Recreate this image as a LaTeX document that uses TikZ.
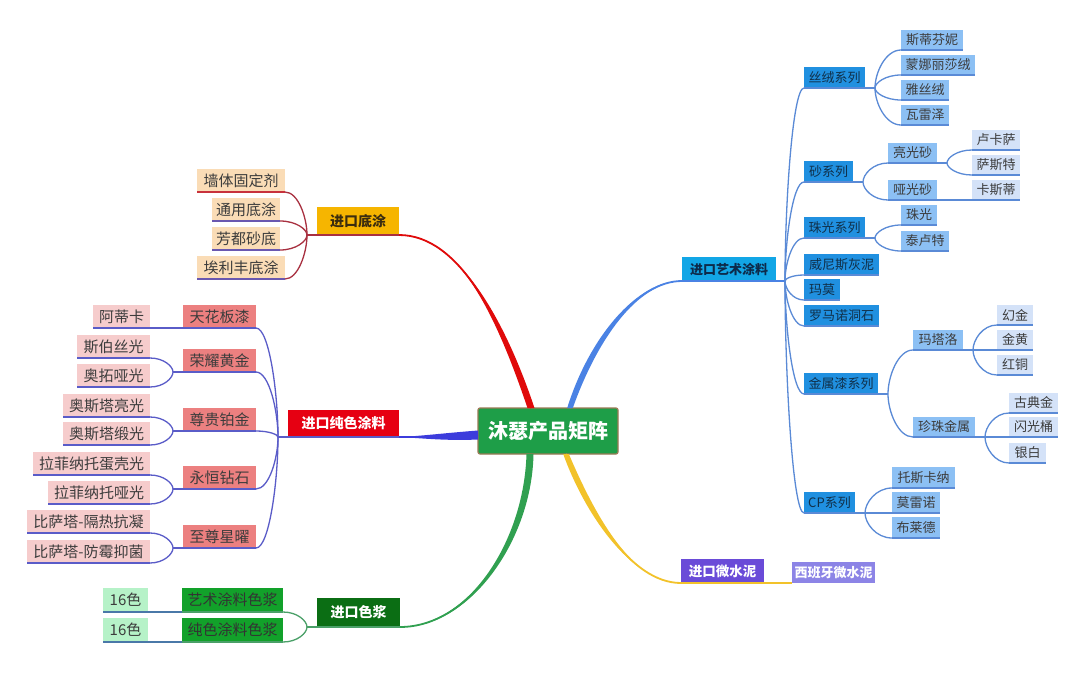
\documentclass[tikz,border=0pt]{standalone}
\usepackage{fontspec}
\setmainfont{Noto Sans CJK SC}
\usetikzlibrary{calc}
\definecolor{cCenter}{HTML}{1E9E48}
\definecolor{cBorder}{HTML}{9A7A55}
\definecolor{cDitu}{HTML}{F6B500}
\definecolor{cDituT}{HTML}{3B2D0F}
\definecolor{cChunse}{HTML}{E60012}
\definecolor{cSejiang}{HTML}{0B6E14}
\definecolor{cYishu}{HTML}{12A6E6}
\definecolor{cYishuT}{HTML}{0D2A4A}
\definecolor{cWei}{HTML}{6A4BD8}
\definecolor{cXibanya}{HTML}{8C84E6}
\definecolor{cPeach}{HTML}{FADCB6}
\definecolor{cSalmon}{HTML}{EC8080}
\definecolor{cPink}{HTML}{F6CCCC}
\definecolor{cGsec}{HTML}{12A12A}
\definecolor{cLG}{HTML}{B6F2C8}
\definecolor{cBsec}{HTML}{2090E0}
\definecolor{cLB}{HTML}{8CC0F4}
\definecolor{cVLB}{HTML}{D4E2F8}
\definecolor{txt}{HTML}{3C3C3C}
\definecolor{txtB}{HTML}{10304A}
\definecolor{lDi}{HTML}{A83040}
\definecolor{lDiU}{HTML}{6A58B0}
\definecolor{lDiR}{HTML}{C8323C}
\definecolor{lCs}{HTML}{5A5CC8}
\definecolor{lSj}{HTML}{4AA068}
\definecolor{lSjU}{HTML}{4A78A8}
\definecolor{lYs}{HTML}{5A8AD6}
\definecolor{bRed}{HTML}{E00A0A}
\definecolor{bBlueL}{HTML}{3C3CDC}
\definecolor{bGreen}{HTML}{30A050}
\definecolor{bBlueR}{HTML}{4A82E4}
\definecolor{bYellow}{HTML}{F2C22A}
\newcommand\bnode[6]{\node[#1, minimum width=#4, minimum height=#5] (#2) at #3 {#6};}
\newcommand\crv[3]{\draw[#1] (#2) .. controls ($(#2)!0.4!(#2 |- #3)$) and ($(#3)!0.6!(#2 |- #3)$) .. (#3);}
\begin{document}
\begin{tikzpicture}[x=1pt,y=-1pt,
  bx/.style={inner sep=0pt, outer sep=0pt, text=txt, font=\fontsize{15}{17}\selectfont},
  bxs/.style={bx, font=\fontsize{13}{15}\selectfont},
  lone/.style={inner sep=0pt, outer sep=0pt, font=\fontsize{14}{16}\selectfont\bfseries},
  rootbox/.style={inner sep=0pt, outer sep=0pt, fill=cCenter, draw=cBorder, line width=1.2, rounded corners=2, text=white, font=\fontsize{20}{24}\selectfont\bfseries},
  peach/.style={bx, fill=cPeach},
  salmon/.style={bx, fill=cSalmon},
  pink/.style={bx, fill=cPink},
  gsec/.style={bx, fill=cGsec, text=black!80},
  lgreen/.style={bx, fill=cLG},
  bsec/.style={bxs, fill=cBsec, text=txtB},
  lblue/.style={bxs, fill=cLB},
  vlblue/.style={bxs, fill=cVLB},
  conn/.style={line width=1.3},
  ul/.style={line width=1.5},
  ulone/.style={line width=2}]
\fill[white] (0,0) rectangle (1080,675);
\useasboundingbox (0,0) rectangle (1080,675);

% ---------- nodes ----------
\bnode{rootbox}{root}{(548,431)}{140}{46}{沐瑟产品矩阵}

\bnode{lone,fill=cDitu,text=cDituT}{ditu}{(358,221)}{82}{28}{进口底涂}
\bnode{lone,fill=cChunse,text=white}{chunse}{(343.5,423.5)}{111}{27}{进口纯色涂料}
\bnode{lone,fill=cSejiang,text=white}{sejiang}{(358.5,612.5)}{83}{29}{进口色浆}
\bnode{lone,fill=cYishu,text=cYishuT,font=\fontsize{13}{15}\selectfont\bfseries}{yishu}{(729,269)}{94}{24}{进口艺术涂料}
\bnode{lone,fill=cWei,text=white,font=\fontsize{13.5}{15}\selectfont\bfseries}{weishuini}{(722.5,571)}{83}{24}{进口微水泥}
\bnode{lone,fill=cXibanya,text=white,font=\fontsize{13}{15}\selectfont\bfseries}{xibanya}{(833.5,572.5)}{83}{21}{西班牙微水泥}

% 底涂
\bnode{peach}{qiang}{(241,180.5)}{88}{23}{墙体固定剂}
\bnode{peach}{tyd}{(246,209.5)}{68}{23}{通用底涂}
\bnode{peach}{fds}{(246,238.5)}{68}{23}{芳都砂底}
\bnode{peach}{alf}{(241,267.5)}{88}{23}{埃利丰底涂}

% 纯色
\bnode{salmon}{tianhua}{(219.5,316.5)}{73}{23}{天花板漆}
\bnode{salmon}{rongyao}{(219.5,360.5)}{73}{23}{荣耀黄金}
\bnode{salmon}{zungui}{(219.5,419.5)}{73}{23}{尊贵铂金}
\bnode{salmon}{yongheng}{(219.5,477.5)}{73}{23}{永恒钻石}
\bnode{salmon}{zhizun}{(219.5,536.5)}{73}{23}{至尊星曜}
\bnode{pink}{adika}{(121.5,316.5)}{57}{23}{阿蒂卡}
\bnode{pink}{sibo}{(113.5,346.5)}{73}{23}{斯伯丝光}
\bnode{pink}{aotuo}{(113.5,375.5)}{73}{23}{奥拓哑光}
\bnode{pink}{aosa}{(106.5,405.5)}{87}{23}{奥斯塔亮光}
\bnode{pink}{aosb}{(106.5,433.5)}{87}{23}{奥斯塔缎光}
\bnode{pink}{lafa}{(91.5,463.5)}{117}{23}{拉菲纳托蛋壳光}
\bnode{pink}{lafb}{(99,492.5)}{102}{23}{拉菲纳托哑光}
\bnode{pink}{bisa}{(88.5,521.5)}{123}{23}{比萨塔-隔热抗凝}
\bnode{pink}{bisb}{(88.5,551.5)}{123}{23}{比萨塔-防霉抑菌}

% 色浆
\bnode{gsec}{yssj}{(232.5,600)}{101}{24}{艺术涂料色浆}
\bnode{gsec}{cssj}{(232.5,630)}{101}{24}{纯色涂料色浆}
\bnode{lgreen}{sla}{(125.5,600)}{45}{24}{16色}
\bnode{lgreen}{slb}{(125.5,630)}{45}{24}{16色}

% 艺术涂料
\bnode{bsec}{sirong}{(834.5,77.5)}{61}{21}{丝绒系列}
\bnode{bsec}{sha}{(828.5,171.5)}{49}{21}{砂系列}
\bnode{bsec}{zhuguang}{(834.5,227.5)}{61}{21}{珠光系列}
\bnode{bsec}{weinisi}{(841.5,264.5)}{75}{21}{威尼斯灰泥}
\bnode{bsec}{mamo}{(822,289.5)}{36}{21}{玛莫}
\bnode{bsec}{luoma}{(841.5,315.5)}{75}{21}{罗马诺洞石}
\bnode{bsec}{jinshu}{(841,383.5)}{74}{21}{金属漆系列}
\bnode{bsec}{cp}{(829.5,502.5)}{51}{21}{CP系列}

\bnode{lblue}{stf}{(932,40)}{62}{20}{斯蒂芬妮}
\bnode{lblue}{mnls}{(938,65)}{74}{20}{蒙娜丽莎绒}
\bnode{lblue}{yasr}{(925,90)}{48}{20}{雅丝绒}
\bnode{lblue}{wlz}{(925,115)}{48}{20}{瓦雷泽}
\bnode{lblue}{lgs}{(912.5,153)}{49}{20}{亮光砂}
\bnode{lblue}{ygs}{(912.5,190)}{49}{20}{哑光砂}
\bnode{vlblue}{lks}{(996,140)}{48}{20}{卢卡萨}
\bnode{vlblue}{sst}{(996,165)}{48}{20}{萨斯特}
\bnode{vlblue}{ksd}{(996,190)}{48}{20}{卡斯蒂}
\bnode{lblue}{zg}{(919,215)}{36}{20}{珠光}
\bnode{lblue}{tlt}{(925,241)}{48}{20}{泰卢特}
\bnode{lblue}{mtl}{(938,340)}{50}{20}{玛塔洛}
\bnode{lblue}{zzjs}{(944,427)}{62}{20}{珍珠金属}
\bnode{vlblue}{hj}{(1015,315)}{36}{20}{幻金}
\bnode{vlblue}{jh}{(1015,340)}{36}{20}{金黄}
\bnode{vlblue}{ht}{(1015,365)}{36}{20}{红铜}
\bnode{vlblue}{gdj}{(1033.5,403)}{49}{20}{古典金}
\bnode{vlblue}{sgt}{(1033.5,427)}{49}{20}{闪光桶}
\bnode{vlblue}{yb}{(1027.5,453)}{37}{20}{银白}
\bnode{lblue}{tskn}{(923.5,477.5)}{63}{21}{托斯卡纳}
\bnode{lblue}{mln}{(916,502.5)}{48}{21}{莫雷诺}
\bnode{lblue}{bld}{(916,527.5)}{48}{21}{布莱德}

% ---------- main tapered branches ----------
\coordinate (sR) at ([xshift=-17]root.north);
\coordinate (sB) at ([xshift=22]root.north);
\coordinate (sG) at ([xshift=-18]root.south);
\coordinate (sY) at ([xshift=18]root.south);
\coordinate (sL) at ([yshift=-4]root.west);

\fill[bRed] ([xshift=-3.5]sR) .. controls (497,318) and (459,233.6) .. (ditu.south east)
  .. controls (459,236.4) and (505,320) .. ([xshift=3.5]sR) -- cycle;
\draw[bRed, line width=1.8] (sR) .. controls (501,319) and (459,235) .. (ditu.south east);

\fill[bBlueR] ([xshift=-2.8]sB) .. controls (589,338) and (637,279.8) .. (yishu.south west)
  .. controls (637,282.2) and (597,340) .. ([xshift=2.8]sB) -- cycle;
\draw[bBlueR, line width=1.8] (sB) .. controls (593,339) and (637,281) .. (yishu.south west);

\fill[bGreen] ([xshift=-3.5]sG) .. controls (524,540) and (470,625.8) .. (sejiang.south east)
  .. controls (470,628.2) and (532,540) .. ([xshift=3.5]sG) -- cycle;
\draw[bGreen, line width=1.8] (sG) .. controls (528,540) and (470,627) .. (sejiang.south east);

\fill[bYellow] ([xshift=-2.8]sY) .. controls (584,512) and (630,581.8) .. (weishuini.south west)
  .. controls (630,584.2) and (592,508) .. ([xshift=2.8]sY) -- cycle;
\draw[bYellow, line width=1.8] (sY) .. controls (588,510) and (630,583) .. (weishuini.south west);

\fill[bBlueL] ([yshift=4.5]sL) .. controls (445,433) and (420,436.2) .. (chunse.south east)
  .. controls (420,438) and (445,441) .. ([yshift=-4.5]sL) -- cycle;
\draw[bBlueL, line width=1.8] (sL) .. controls (445,437) and (420,437) .. (chunse.south east);

% ---------- 进口底涂 ----------
\coordinate (fDi) at ([xshift=-10]ditu.south west);
\draw[lDi, ulone] (ditu.south east) -- (fDi);
\foreach \c in {qiang,tyd,fds,alf}{\crv{lDi, conn}{fDi}{\c.south east}}
\draw[lDiR, ul] (qiang.south west) -- (qiang.south east);
\foreach \c in {tyd,fds,alf}
  \draw[lDiU, ul] (\c.south west) -- (\c.south east);

% ---------- 进口纯色涂料 ----------
\coordinate (fCs) at ([xshift=-10]chunse.south west);
\draw[lCs, ulone] (chunse.south east) -- (fCs);
\foreach \c in {tianhua,rongyao,zungui,yongheng,zhizun}{\crv{lCs, conn}{fCs}{\c.south east}}
\draw[lCs, ul] (tianhua.south east) -- (adika.south west);
\draw[lCs, ul] (adika.south west) -- (adika.south east);
\foreach \p/\a/\b in {rongyao/sibo/aotuo, zungui/aosa/aosb, yongheng/lafa/lafb, zhizun/bisa/bisb}{
  \coordinate (f\p) at ([xshift=-10]\p.south west);
  \draw[lCs, ul] (\p.south east) -- (f\p);
  \crv{lCs, conn}{f\p}{\a.south east}
  \crv{lCs, conn}{f\p}{\b.south east}
  \draw[lCs, ul] (\a.south west) -- (\a.south east);
  \draw[lCs, ul] (\b.south west) -- (\b.south east);
}

% ---------- 进口色浆 ----------
\coordinate (fSj) at ([xshift=-10]sejiang.south west);
\draw[lSj, ulone] (sejiang.south east) -- (fSj);
\foreach \c in {yssj,cssj}{\crv{lSj, conn}{fSj}{\c.south east}}
\draw[lSj, ul] (yssj.south east) -- (yssj.south west);
\draw[lSj, ul] (cssj.south east) -- (cssj.south west);
\draw[lSjU, ul] (yssj.south west) -- (sla.south west);
\draw[lSjU, ul] (cssj.south west) -- (slb.south west);

% ---------- 进口艺术涂料 ----------
\coordinate (fYs) at ([xshift=9]yishu.south east);
\draw[bBlueR, ulone] (yishu.south west) -- (fYs);
\foreach \c in {sirong,sha,zhuguang,weinisi,mamo,luoma,jinshu,cp}{
  \crv{lYs, conn}{fYs}{\c.south west}
  \draw[lYs, ul] (\c.south west) -- (\c.south east);
}
\foreach \p/\kids in {sirong/{stf,mnls,yasr,wlz}, sha/{lgs,ygs}, zhuguang/{zg,tlt},
    jinshu/{mtl,zzjs}, cp/{tskn,mln,bld}, lgs/{lks,sst}, mtl/{hj,jh,ht}, zzjs/{gdj,sgt,yb}}{
  \coordinate (f\p) at ([xshift=10]\p.south east);
  \draw[lYs, ul] (\p.south east) -- (f\p);
  \foreach \c in \kids {
    \crv{lYs, conn}{f\p}{\c.south west}
    \draw[lYs, ul] (\c.south west) -- (\c.south east);
  }
}
\draw[lYs, ul] (ygs.south east) -- (ksd.south west);
\draw[lYs, ul] (ksd.south west) -- (ksd.south east);

% ---------- 进口微水泥 ----------
\draw[bYellow, ulone] (weishuini.south west) -- (xibanya.south west);
\end{tikzpicture}
\end{document}
